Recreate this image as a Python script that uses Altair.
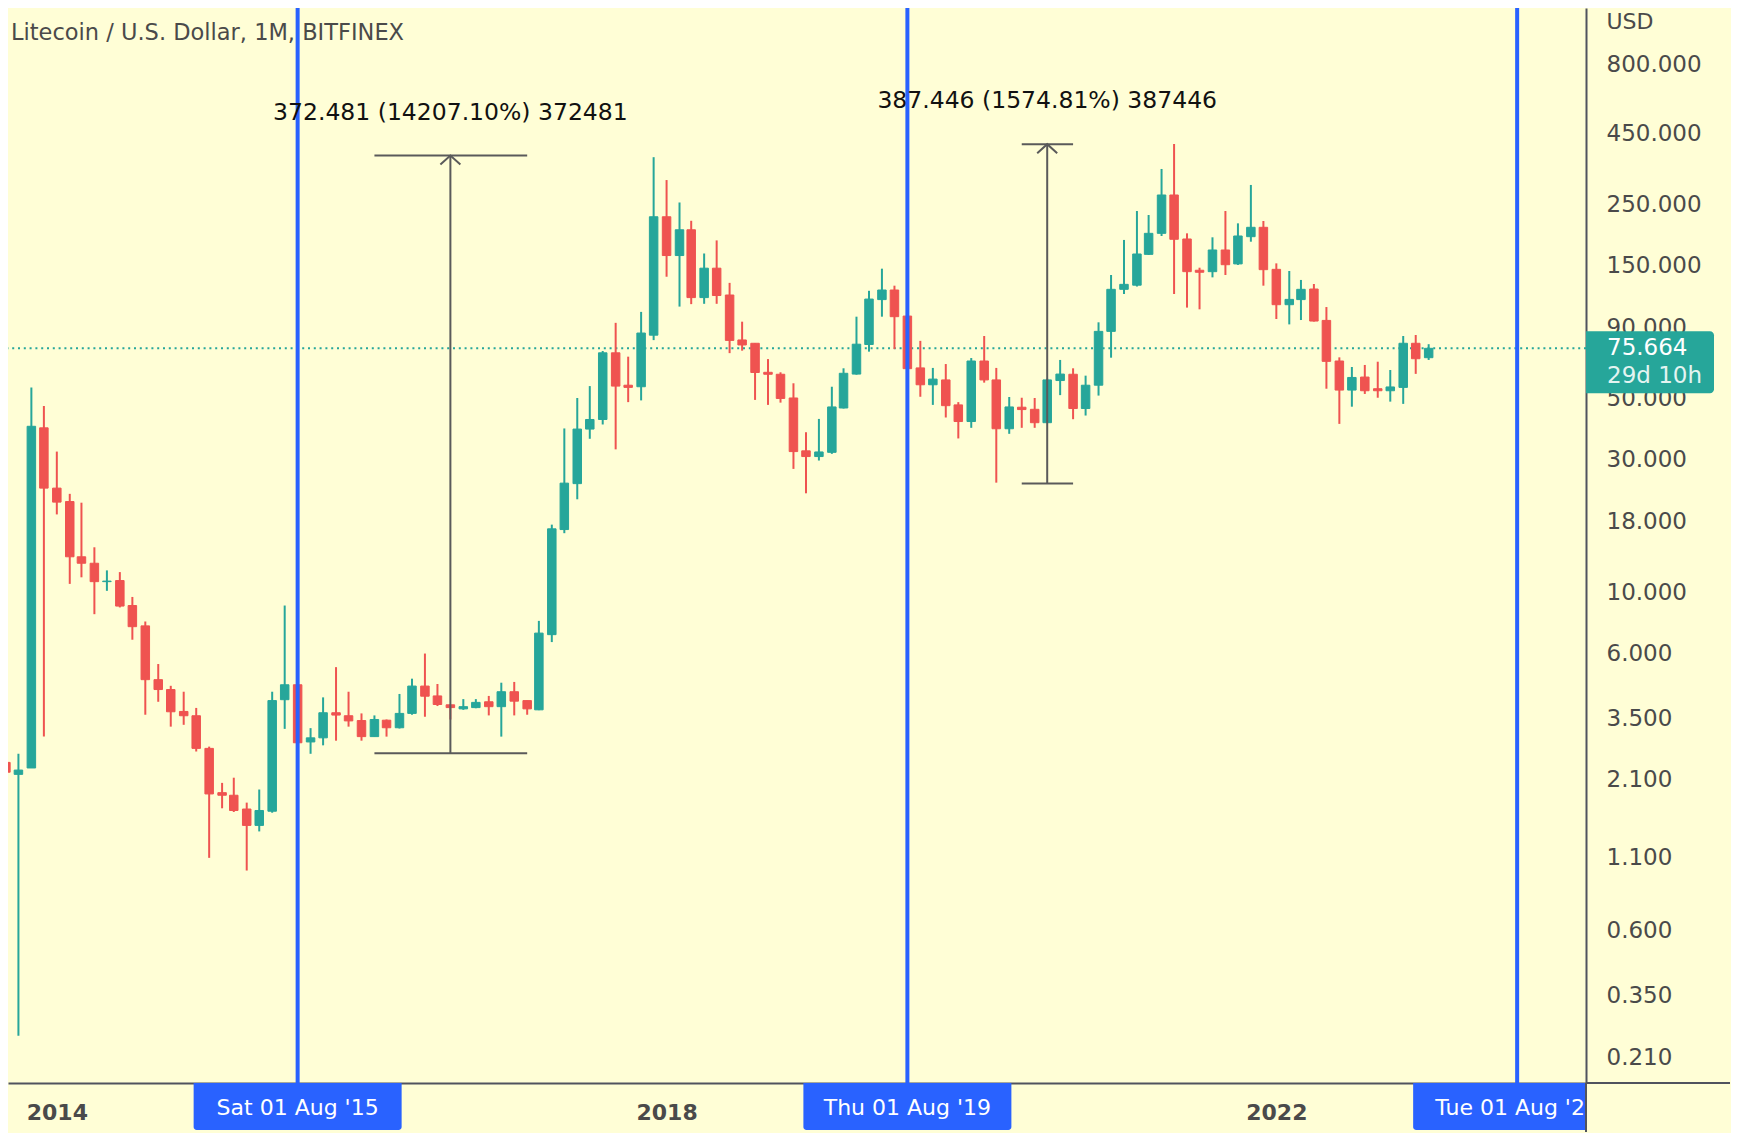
import altair as alt
import pandas as pd

# ---------------- data ----------------
first_month = "2013-09-01"
opens = [2.43, 2.20, 2.32, 39.1,
         23.7, 21.2, 13.4, 12.7, 10.9, 11.0, 8.94, 7.55, 4.83, 4.45, 3.71, 3.58,
         2.73, 1.89, 1.85, 1.65, 1.44, 1.62, 4.09, 4.63, 2.88, 2.98, 3.67, 3.58,
         3.44, 3.01, 3.45, 3.24, 3.65, 4.58, 4.22, 3.92, 3.79, 3.83, 4.02, 3.86,
         4.37, 4.06, 3.76, 7.02, 16.8, 24.6, 38.7, 41.9, 72.9, 55.7, 55.0, 84.4,
         225.6, 163.5, 202.5, 115.3, 147.2, 117.8, 81.1, 78.9, 62.0, 61.0, 50.1, 32.3,
         30.8, 31.9, 46.1, 61.1, 78.1, 113.4, 122.8, 98.9, 64.3, 55.9, 58.2, 47.3,
         41.2, 68.1, 58.2, 38.8, 46.4, 45.6, 40.8, 57.9, 61.0, 45.9, 55.7, 87.1,
         123.5, 127.8, 165.1, 196.6, 270.3, 187.6, 144.7, 143.0, 171.2, 152.5, 191.2, 206.7,
         145.8, 108.7, 113.4, 123.8, 95.4, 68.1, 53.5, 59.6, 54.1, 53.2, 54.7, 78.9,
         70.0]
highs = [2.98, 2.61, 54.7, 46.9,
         32.1, 22.6, 21.0, 14.5, 11.97, 11.8, 9.6, 7.83, 5.50, 4.59, 4.37, 3.82,
         2.77, 2.05, 2.14, 1.74, 1.94, 4.37, 8.94, 4.63, 3.23, 4.17, 5.36, 4.37,
         3.65, 3.59, 3.47, 4.29, 4.87, 6.00, 4.66, 3.92, 4.11, 4.11, 4.22, 4.71,
         4.74, 4.06, 7.87, 17.5, 38.9, 50.1, 55.3, 74.0, 93.5, 70.6, 102.4, 370.0,
         306.0, 254.0, 218.2, 166.3, 185.4, 130.3, 94.4, 78.9, 69.2, 62.0, 56.6, 37.7,
         42.1, 55.0, 64.1, 98.4, 122.0, 146.6, 127.3, 106.9, 80.5, 64.3, 66.4, 48.4,
         69.8, 83.8, 64.3, 50.5, 50.2, 50.1, 58.8, 68.7, 64.1, 60.3, 93.9, 139.1,
         186.1, 236.6, 228.9, 335.5, 412.8, 196.6, 147.8, 190.2, 236.6, 213.6, 293.8, 217.8,
         153.2, 143.8, 133.5, 129.1, 106.6, 70.2, 64.8, 65.9, 67.7, 63.2, 83.8, 84.5,
         78.3]
lows = [1.61, 0.251, 2.32, 3.01,
        19.05, 10.7, 11.3, 8.32, 10.1, 8.8, 6.73, 3.61, 4.02, 3.27, 3.32, 2.66,
        1.10, 1.66, 1.61, 0.99, 1.37, 1.60, 3.21, 2.39, 2.61, 2.80, 2.91, 3.27,
        2.91, 3.01, 3.01, 3.22, 3.61, 3.55, 3.88, 3.47, 3.76, 3.81, 3.59, 3.01,
        3.59, 3.61, 3.75, 6.60, 16.3, 21.6, 35.7, 40.2, 32.7, 48.4, 49.1, 81.0,
        137.1, 107.0, 109.2, 109.5, 109.5, 72.7, 74.2, 49.3, 47.3, 48.2, 27.8, 22.7,
        29.8, 31.5, 45.9, 60.8, 73.6, 98.4, 75.2, 62.3, 50.6, 47.3, 42.6, 35.8,
        39.1, 56.9, 24.8, 37.2, 39.1, 39.1, 40.8, 51.3, 42.0, 43.3, 51.1, 70.0,
        118.8, 126.4, 164.3, 192.3, 118.8, 106.1, 104.6, 136.4, 139.1, 151.2, 183.4, 127.3,
        96.5, 92.3, 95.7, 94.5, 54.1, 40.4, 46.6, 51.8, 50.2, 48.6, 47.7, 61.2,
        68.7]
closes = [2.24, 2.28, 39.6, 23.7,
          21.1, 13.4, 12.7, 10.9, 10.95, 8.9, 7.5, 4.83, 4.45, 3.70, 3.58, 2.73,
          1.87, 1.85, 1.63, 1.44, 1.63, 4.06, 4.63, 2.86, 2.98, 3.67, 3.60, 3.43,
          3.01, 3.47, 3.24, 3.65, 4.58, 4.21, 3.93, 3.83, 3.86, 4.00, 3.86, 4.37,
          4.04, 3.79, 7.11, 16.9, 24.7, 38.7, 41.9, 72.9, 55.3, 54.7, 85.9, 225.6,
          163.5, 202.5, 115.3, 147.2, 117.3, 80.8, 77.8, 61.9, 61.0, 49.9, 32.1, 30.8,
          32.0, 46.5, 61.5, 78.3, 113.9, 122.8, 98.4, 63.9, 55.9, 58.6, 47.0, 41.2,
          68.1, 58.2, 38.8, 46.5, 45.5, 40.8, 58.2, 61.1, 45.9, 55.7, 87.1, 123.5,
          128.7, 165.6, 196.6, 270.3, 187.1, 143.0, 142.3, 171.2, 151.5, 192.3, 206.7, 145.4,
          108.7, 113.6, 123.5, 94.9, 67.9, 53.5, 59.4, 53.2, 53.2, 54.9, 78.9, 69.4,
          75.664]

last_price = 75.664
countdown = "29d 10h"
title_text = "Litecoin / U.S. Dollar, 1M, BITFINEX"
axis_title = "USD"
y_ticks = [800, 450, 250, 150, 90, 50, 30, 18, 10, 6, 3.5, 2.1, 1.1, 0.6, 0.35, 0.21]
x_tick_years = [2014, 2018, 2022]

vline_dates = ["2015-08-01", "2019-08-01", "2023-08-01"]
vline_labels = ["Sat 01 Aug '15", "Thu 01 Aug '19", "Tue 01 Aug '23"]

meas_start = ["2016-02-01", "2020-05-01"]
meas_mid = ["2016-08-01", "2020-07-01"]
meas_end = ["2017-02-01", "2020-09-01"]
meas_low = [2.6218, 24.6027]
meas_high = [375.103, 412.049]
meas_labels = ["372.481 (14207.10%) 372481", "387.446 (1574.81%) 387446"]

# ---------------- styling ----------------
BG = "#FFFED6"
UP = "#26A69A"
DOWN = "#EF5350"
BLUE = "#2962FF"
AXIS = "#50535E"
TXT = "#4A4A4A"
MEAS = "#5A5A5A"
FONT = "DejaVu Sans"
W, H = 1578, 1075
EXT = 144  # part of the right price scale that lies beyond the plot

months = pd.date_range(first_month, periods=len(opens), freq="MS").strftime("%Y-%m-%d").tolist()
candles = pd.DataFrame({"date": months, "open": opens, "high": highs,
                        "low": lows, "close": closes})
candles["dir"] = ["up" if c >= o else "down" for o, c in zip(opens, closes)]

vlines = pd.DataFrame({"date": vline_dates, "label": vline_labels})
meas = pd.DataFrame({"start": meas_start, "mid": meas_mid, "end": meas_end,
                     "low": meas_low, "high": meas_high, "label": meas_labels})
one = pd.DataFrame({"k": [0]})
price_df = pd.DataFrame({"price": [last_price], "cd": [countdown]})

x_scale = alt.Scale(type="utc",
                    domain=[alt.DateTime(year=2013, month=9, date=18, utc=True),
                            alt.DateTime(year=2024, month=1, date=1, utc=True)])
y_scale = alt.Scale(type="log", domain=[0.1696, 1277], nice=False)
col_scale = alt.Scale(domain=["up", "down"], range=[UP, DOWN])

x_axis = alt.Axis(values=[alt.DateTime(year=y, month=1, date=1, utc=True) for y in x_tick_years],
                  format="%Y", title=None, grid=False, ticks=False, tickSize=0,
                  labelFont=FONT, labelFontSize=22, labelFontWeight="bold", labelColor=TXT,
                  labelBaseline="middle", labelPadding=29,
                  domainColor=AXIS, domainWidth=2, labelOverlap=False)
y_axis = alt.Axis(orient="right", values=y_ticks, format=".3f", grid=False,
                  ticks=False, tickSize=0, labelPadding=20, labelAlign="left",
                  labelBaseline="middle", labelFont=FONT, labelFontSize=23,
                  labelColor=TXT, labelOverlap=False, domainColor=AXIS, domainWidth=2,
                  title=axis_title, titleAngle=0, titleAlign="left", titleBaseline="middle",
                  titleX=20, titleY=13, titleFont=FONT, titleFontSize=22,
                  titleFontWeight="normal", titleColor=TXT)


def X(f, t="temporal"):
    return alt.X(f, type=t, scale=x_scale, axis=x_axis)


def Y(f):
    return alt.Y(f, type="quantitative", scale=y_scale, axis=y_axis)


price_line = alt.Chart(price_df).mark_rule(color=UP, strokeWidth=2, strokeDash=[2, 3.8],
                                           clip=True).encode(y=Y("price"))

wicks = alt.Chart(candles).mark_rule(strokeWidth=2, clip=True).encode(
    x=X("date"), y=Y("low"), y2="high:Q",
    color=alt.Color("dir:N", scale=col_scale, legend=None))

bodies = alt.Chart(candles).mark_bar(width=8.5, strokeWidth=1, clip=True).encode(
    x=X("date"), y=Y("open"), y2="close:Q",
    color=alt.Color("dir:N", scale=col_scale, legend=None),
    stroke=alt.Stroke("dir:N", scale=col_scale, legend=None))

blue_lines = alt.Chart(vlines).mark_rule(color=BLUE, strokeWidth=4, clip=True).encode(x=X("date"))

m_top = alt.Chart(meas).mark_rule(color=MEAS, strokeWidth=2, clip=True).encode(
    x=X("start"), x2="end:T", y=Y("high"))
m_bot = alt.Chart(meas).mark_rule(color=MEAS, strokeWidth=2, clip=True).encode(
    x=X("start"), x2="end:T", y=Y("low"))
m_vert = alt.Chart(meas).mark_rule(color=MEAS, strokeWidth=2, clip=True).encode(
    x=X("mid"), y=Y("low"), y2="high:Q")
m_arrow = alt.Chart(meas).mark_point(shape="M -1 0.9 L 0 0 L 1 0.9", filled=False, size=400,
                                     color=MEAS, strokeWidth=2, opacity=1).encode(
    x=X("mid"), y=Y("high"))
m_text = alt.Chart(meas).mark_text(font=FONT, fontSize=23.5, color="#111111", dy=-43,
                                   baseline="middle").encode(
    x=X("mid"), y=Y("high"), text="label:N")

title = alt.Chart(one).mark_text(text=title_text, font=FONT, fontSize=22.5, color=TXT,
                                 align="left", baseline="middle").encode(
    x=alt.value(3), y=alt.value(25))

price_box = alt.Chart(price_df).mark_rect(height=62, yOffset=14, color=UP,
                                          cornerRadiusTopRight=4, cornerRadiusBottomRight=4).encode(
    x=alt.value(W), x2=alt.value(W + 128), y=Y("price"))
price_txt = alt.Chart(price_df).mark_text(font=FONT, fontSize=23, color="white", align="left",
                                          baseline="middle").encode(
    x=alt.value(W + 21), y=Y("price"), text=alt.Text("price:Q", format=".3f"))
cd_txt = alt.Chart(price_df).mark_text(font=FONT, fontSize=23, color="#E3F4F1", align="left",
                                       baseline="middle", dy=28).encode(
    x=alt.value(W + 21), y=Y("price"), text="cd:N")

boxes = alt.Chart(vlines).mark_bar(width=208, color=BLUE, cornerRadiusBottomLeft=3,
                                   cornerRadiusBottomRight=3, clip=False).encode(
    x=X("date"), y=alt.value(H), y2=alt.value(H + 47))
box_txt = alt.Chart(vlines).mark_text(font=FONT, fontSize=22, color="white",
                                      baseline="middle").encode(
    x=X("date"), y=alt.value(H + 25), text="label:N")

cover = alt.Chart(one).mark_rect(color=BG).encode(
    x=alt.value(W + 1), x2=alt.value(W + EXT), y=alt.value(H + 1), y2=alt.value(H + 49))
ext_h = alt.Chart(one).mark_rule(color=AXIS, strokeWidth=2).encode(
    x=alt.value(W), x2=alt.value(W + EXT), y=alt.value(H))
ext_v = alt.Chart(one).mark_rule(color=AXIS, strokeWidth=2).encode(
    x=alt.value(W), y=alt.value(H), y2=alt.value(H + 49))

chart = alt.layer(
    price_line, wicks, bodies, blue_lines, m_top, m_bot, m_vert, m_arrow, m_text,
    title, price_box, price_txt, cd_txt, boxes, box_txt, cover, ext_h, ext_v
).properties(
    width=W, height=H, padding=0, background=BG
).configure_view(stroke=None)

chart.save("out.html", embed_options={"renderer": "svg", "actions": False})
